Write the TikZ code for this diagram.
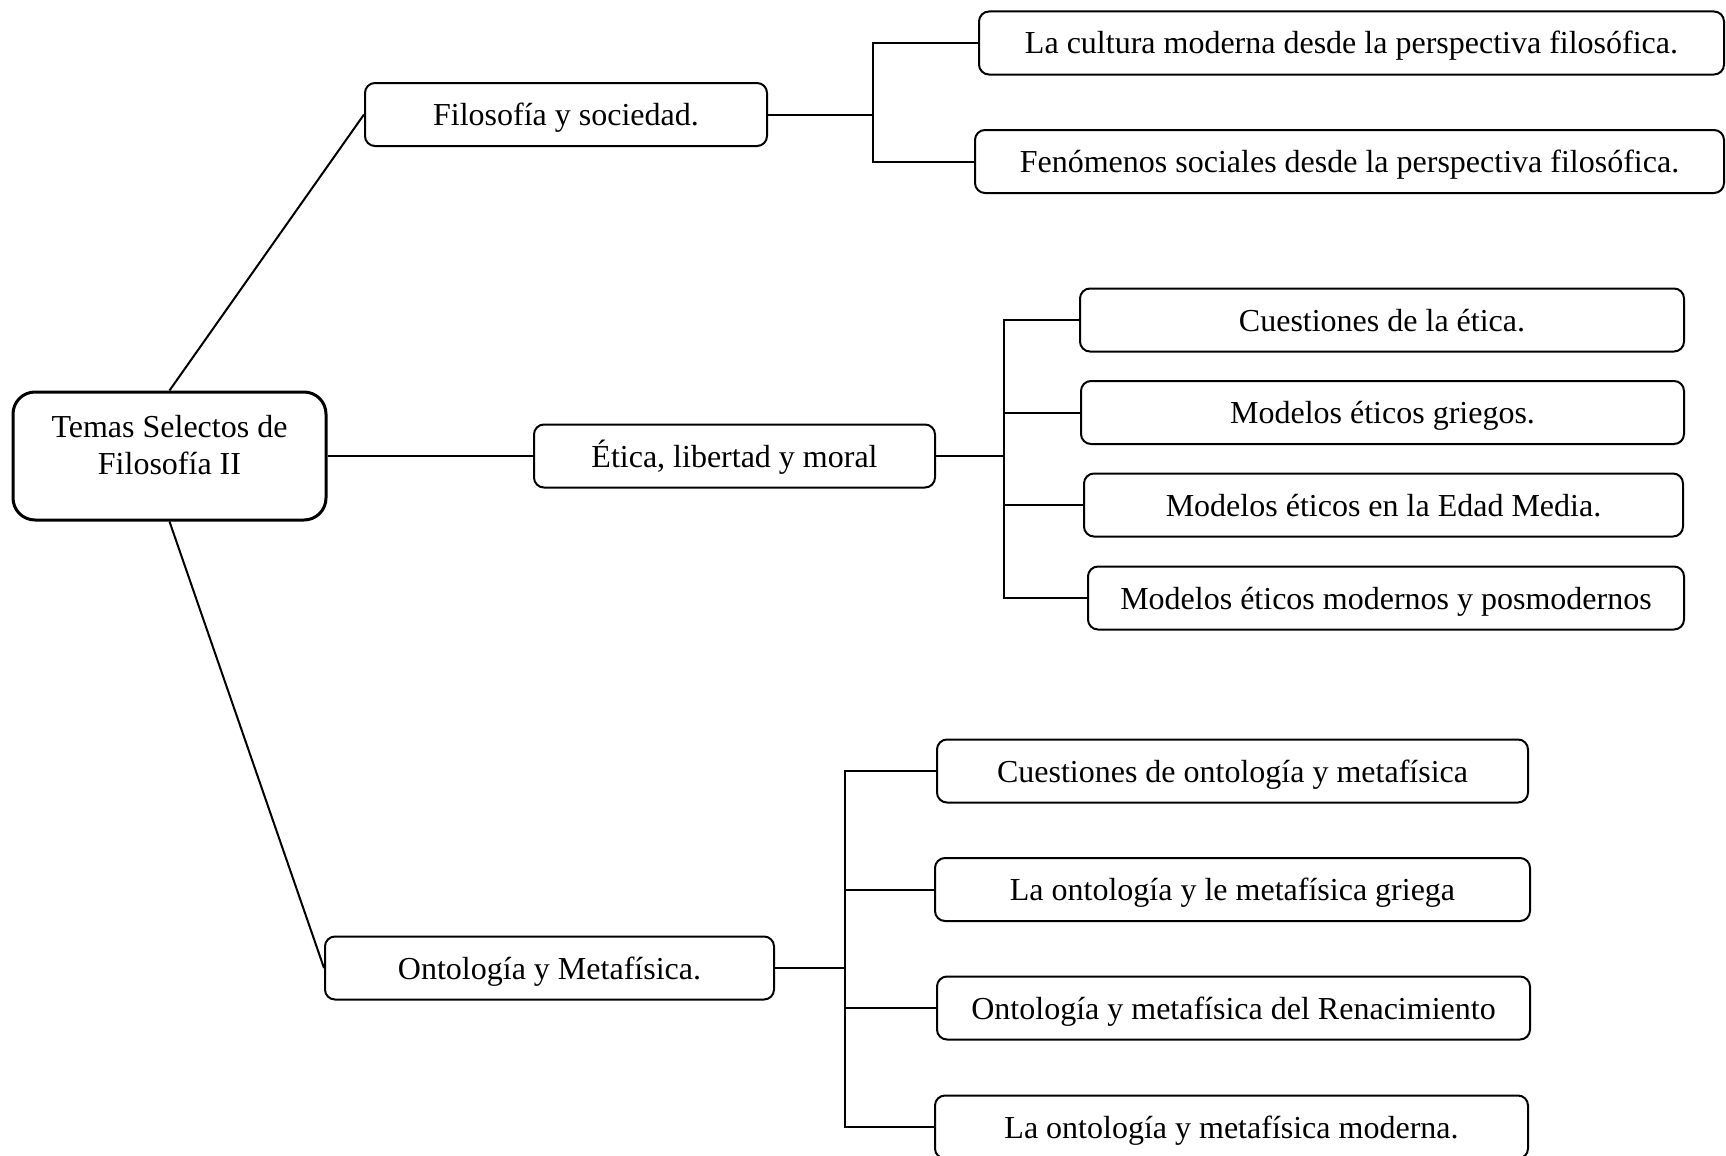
\documentclass[tikz,border=0pt]{standalone}
\usepackage{fontspec}
\setmainfont{Liberation Serif}

\begin{document}
\begin{tikzpicture}[x=1pt,y=1pt,yscale=-1,
	tema/.style={draw,rounded corners=10pt,line width=2pt,inner sep=0pt,minimum height=63pt,text height=27pt,text depth=5pt,font=\fontsize{32}{37}\selectfont},
	raiz/.style={tema,text height=,text depth=,rounded corners=22pt,line width=3pt,align=center,minimum width=313pt,minimum height=128pt},
	rama/.style={line width=2pt}]
	\useasboundingbox (0,0) rectangle (1726,1156);
	\draw (169.5,456) node [raiz] (root) {Temas Selectos de\\Filosofía II\\[-14pt]\mbox{}};
	\draw (566,114.5) node [tema,minimum width=402pt] (fil) {Filosofía y sociedad.};
	\draw (734.5,456) node [tema,minimum width=401pt] (eti) {Ética, libertad y moral};
	\draw (549.5,968) node [tema,minimum width=449pt] (ont) {Ontología y Metafísica.};
	\draw (1351.5,43) node [tema,minimum width=745pt] (fil1) {La cultura moderna desde la perspectiva filosófica.};
	\draw (1349.5,161.5) node [tema,minimum width=749pt] (fil2) {Fenómenos sociales desde la perspectiva filosófica.};
	\draw (1382,320) node [tema,minimum width=604pt] (eti1) {Cuestiones de la ética.};
	\draw (1382.5,412.5) node [tema,minimum width=603pt] (eti2) {Modelos éticos griegos.};
	\draw (1383.5,505) node [tema,minimum width=599pt] (eti3) {Modelos éticos en la Edad Media.};
	\draw (1386,598) node [tema,minimum width=596pt] (eti4) {Modelos éticos modernos y posmodernos};
	\draw (1232.5,771) node [tema,minimum width=591pt] (ont1) {Cuestiones de ontología y metafísica};
	\draw (1232.5,889.5) node [tema,minimum width=595pt] (ont2) {La ontología y le metafísica griega};
	\draw (1233.5,1008) node [tema,minimum width=593pt] (ont3) {Ontología y metafísica del Renacimiento};
	\draw (1231.5,1127) node [tema,minimum width=593pt] (ont4) {La ontología y metafísica moderna.};
	\coordinate (filj) at (873,114.5);
	\coordinate (etij) at (1004,456);
	\coordinate (ontj) at (845,968);
	\draw [rama] (root.north) -- (fil.west);
	\draw [rama] (root) -- (eti);
	\draw [rama] (root.south) -- (ont.west);
	\draw [rama] (fil) -- (filj) (filj) |- (fil1) (filj) |- (fil2);
	\draw [rama] (eti) -- (etij) (etij) |- (eti1) (etij) |- (eti2) (etij) |- (eti3) (etij) |- (eti4);
	\draw [rama] (ont) -- (ontj) (ontj) |- (ont1) (ontj) |- (ont2) (ontj) |- (ont3) (ontj) |- (ont4);
\end{tikzpicture}
\end{document}
